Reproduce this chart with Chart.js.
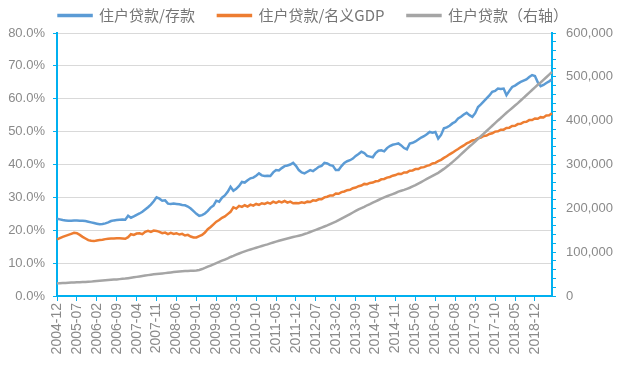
<!DOCTYPE html>
<html>
<head>
<meta charset="utf-8">
<script src="https://cdn.jsdelivr.net/npm/chart.js@4"></script>
<style>
  body { margin: 0; background: #fff; }
  #wrap { width: 640px; height: 368px; }
</style>
</head>
<body>
<div id="wrap"><canvas id="myChart" width="640" height="368"></canvas></div>
<script>
// monthly, 2004-12 .. 2019-06
const startYear = 2004;
const startMonth = 12;
const monthCount = 175;

const seriesNames = ["住户贷款/存款", "住户贷款/名义GDP", "住户贷款（右轴）"];

// 住户贷款/存款 (%)
const loanToDeposit = [23.5,
  23.3, 23.1, 23.0, 22.9, 22.9, 23.0, 23.0, 22.9, 22.9, 22.8, 22.6, 22.4,
  22.2, 22.0, 21.8, 21.9, 22.1, 22.4, 22.8, 23.0, 23.1, 23.2, 23.3, 23.2,
  24.4, 23.8, 24.2, 24.7, 25.1, 25.6, 26.3, 27.0, 27.8, 28.8, 30.0, 29.6,
  29.0, 29.1, 28.1, 28.0, 28.1, 28.0, 27.9, 27.7, 27.6, 27.2, 26.6, 25.8,
  25.0, 24.4, 24.6, 25.1, 25.9, 26.9, 27.5, 29.0, 28.7, 29.9, 30.6, 31.7,
  33.2, 32.0, 32.6, 33.5, 34.7, 34.5, 35.2, 35.8, 36.0, 36.6, 37.3, 36.7,
  36.5, 36.6, 36.5, 37.6, 38.3, 38.2, 38.9, 39.5, 39.7, 40.0, 40.5, 39.6,
  38.3, 37.6, 37.3, 37.8, 38.3, 38.0, 38.6, 39.3, 39.6, 40.5, 40.3, 39.8,
  39.6, 38.3, 38.3, 39.5, 40.5, 41.0, 41.3, 41.8, 42.6, 43.2, 43.9, 43.5,
  42.6, 42.4, 42.2, 43.5, 44.2, 44.3, 44.0, 45.0, 45.6, 46.0, 46.2, 46.4,
  45.8, 45.0, 44.6, 46.4, 46.6, 47.0, 47.6, 48.2, 48.6, 49.2, 49.9, 49.7,
  49.9, 47.9, 49.0, 51.0, 51.3, 51.8, 52.5, 53.0, 54.0, 54.5, 55.2, 55.7,
  55.0, 54.5, 55.6, 57.5, 58.3, 59.2, 60.1, 61.0, 62.1, 62.4, 63.1, 63.0,
  63.1, 61.1, 62.4, 63.6, 64.0, 64.6, 65.1, 65.5, 65.9, 66.6, 67.2, 66.9,
  65.0, 63.8, 64.2, 64.8, 65.3, 65.9];

// 住户贷款/名义GDP (%)
const loanToGdp = [17.2,
  17.6, 18.0, 18.3, 18.6, 18.9, 19.2, 19.1, 18.6, 18.0, 17.5, 17.0, 16.8,
  16.7, 16.9, 17.0, 17.1, 17.3, 17.4, 17.5, 17.5, 17.6, 17.6, 17.5, 17.4,
  17.9, 18.8, 18.6, 19.0, 19.1, 18.8, 19.5, 19.8, 19.5, 19.9, 19.8, 19.5,
  19.1, 19.3, 18.8, 19.2, 18.9, 19.1, 18.7, 18.9, 18.4, 18.6, 18.1, 17.8,
  17.8, 18.2, 18.6, 19.3, 20.3, 21.0, 21.8, 22.6, 23.1, 23.8, 24.2, 24.9,
  25.6, 27.0, 26.6, 27.4, 27.1, 27.6, 27.2, 27.8, 27.5, 28.0, 27.7, 28.2,
  28.0, 28.4, 28.1, 28.7, 28.3, 28.8, 28.5, 28.9, 28.4, 28.7, 28.2, 28.3,
  28.2, 28.5, 28.3, 28.7, 28.6, 29.1, 29.0, 29.4, 29.4, 30.0, 30.2, 30.6,
  30.6, 31.2, 31.1, 31.6, 31.8, 32.2, 32.3, 32.8, 33.0, 33.4, 33.6, 34.1,
  34.0, 34.4, 34.5, 34.9, 35.0, 35.5, 35.6, 36.0, 36.2, 36.6, 36.8, 37.2,
  37.1, 37.6, 37.6, 38.1, 38.2, 38.6, 38.6, 39.1, 39.2, 39.6, 39.8, 40.3,
  40.5, 41.0, 41.4, 42.0, 42.5, 43.1, 43.6, 44.2, 44.7, 45.3, 45.8, 46.4,
  46.8, 47.3, 47.5, 48.0, 48.2, 48.7, 48.8, 49.3, 49.5, 50.0, 50.1, 50.6,
  50.6, 51.1, 51.2, 51.7, 51.8, 52.3, 52.4, 52.9, 53.0, 53.5, 53.5, 54.0,
  53.9, 54.4, 54.3, 54.9, 55.0, 55.6];

// 住户贷款 (亿元, right axis)
const householdLoans = [28800,
  29200, 29600, 29900, 30200, 30600, 30900, 31200, 31500, 31800, 32100, 32400, 32800,
  33400, 34000, 34600, 35200, 35800, 36400, 36900, 37400, 37900, 38500, 39100, 39800,
  40700, 41600, 42600, 43600, 44600, 45600, 46600, 47600, 48600, 49400, 50200, 50800,
  51500, 52200, 53000, 53800, 54500, 55200, 55800, 56300, 56800, 57200, 57500, 57600,
  58300, 59500, 61500, 64000, 66800, 69500, 72300, 75000, 77800, 80500, 83200, 86000,
  89000, 91500, 94500, 97000, 99500, 101800, 104000, 106000, 108000, 110000, 112000, 114000,
  116000, 117800, 120000, 122000, 124000, 126000, 127800, 129500, 131200, 133000, 134500, 136000,
  137500, 139000, 141500, 143500, 146000, 148500, 151000, 153500, 156000, 158500, 161000, 164000,
  167000, 169500, 173000, 176500, 180000, 183500, 187000, 190500, 194000, 197500, 200500, 203500,
  207000, 209500, 213000, 216000, 219000, 222000, 225000, 227500, 230000, 232500, 235000, 238000,
  240000, 242000, 244500, 247000, 250000, 253000, 256500, 260000, 263500, 267000, 270500, 274000,
  277500, 281000, 285500, 290000, 295000, 300000, 305500, 311000, 317000, 323000, 329000, 335000,
  341000, 346500, 352500, 358500, 364500, 370500, 376500, 382500, 388500, 394500, 400500, 406000,
  412000, 418000, 423500, 429000, 434500, 440000, 446000, 452000, 458000, 464000, 470000, 476000,
  482000, 487000, 493000, 499000, 505000, 511000];

const labelEvery = 7;

const months = [];
for (let i = 0; i < monthCount; i++) {
  const m = startMonth - 1 + i;
  const y = startYear + Math.floor(m / 12);
  months.push(y + "-" + String((m % 12) + 1).padStart(2, "0"));
}

const axisBlue = "#00B0F0";
const textGray = "#8a8a8a";

Chart.defaults.font.family = "'Liberation Sans', 'Noto Sans CJK SC', sans-serif";
Chart.defaults.color = textGray;

const chartContainer = document.getElementById("myChart").getContext("2d");

const myChart = new Chart(chartContainer, {
  type: "line",
  data: {
    labels: months,
    datasets: [
      {
        label: seriesNames[0],
        data: loanToDeposit,
        borderColor: "#5B9BD5",
        backgroundColor: "#5B9BD5",
        yAxisID: "y",
        order: 2,
      },
      {
        label: seriesNames[1],
        data: loanToGdp,
        borderColor: "#ED7D31",
        backgroundColor: "#ED7D31",
        yAxisID: "y",
        order: 1,
      },
      {
        label: seriesNames[2],
        data: householdLoans,
        borderColor: "#A5A5A5",
        backgroundColor: "#A5A5A5",
        yAxisID: "y1",
        order: 0,
      },
    ],
  },
  options: {
    responsive: false,
    animation: false,
    layout: { padding: { left: 0, right: 6, top: 0, bottom: 0 } },
    elements: {
      line: { borderWidth: 2.5, tension: 0 },
      point: { radius: 0 },
    },
    plugins: {
      tooltip: { enabled: false },
      legend: {
        position: "top",
        align: "center",
        labels: {
          boxWidth: 33,
          boxHeight: 1,
          padding: 8,
          color: "#767676",
          font: { size: 15, family: "'Noto Sans CJK SC', sans-serif" },
          sort: (a, b) => a.datasetIndex - b.datasetIndex,
          generateLabels: (chart) =>
            Chart.defaults.plugins.legend.labels.generateLabels(chart).map((item) => {
              item.text = item.text + "\u3000";
              return item;
            }),
        },
      },
    },
    scales: {
      x: {
        grid: {
          drawOnChartArea: false,
          drawTicks: true,
          tickLength: 5,
          tickColor: axisBlue,
        },
        border: { color: axisBlue, width: 2 },
        ticks: {
          autoSkip: false,
          maxRotation: 90,
          minRotation: 90,
          padding: 2,
          font: { size: 14 },
          callback: function (value, index) {
            return index % labelEvery === 0 ? this.getLabelForValue(value) : null;
          },
        },
        afterFit: (scale) => {
          scale.height = 72;
        },
      },
      y: {
        position: "left",
        min: 0,
        max: 80,
        grid: {
          color: "#d9d9d9",
          tickColor: axisBlue,
          tickLength: 4,
        },
        border: { color: axisBlue, width: 2 },
        ticks: {
          stepSize: 10,
          padding: 8,
          font: { size: 13 },
          callback: (v) => v.toFixed(1) + "%",
        },
        afterFit: (scale) => {
          scale.width = 57;
        },
      },
      y1: {
        position: "right",
        min: 0,
        max: 600000,
        grid: {
          drawOnChartArea: false,
          tickColor: axisBlue,
          tickLength: 4,
        },
        border: { color: axisBlue, width: 2 },
        ticks: {
          stepSize: 20000,
          autoSkip: false,
          padding: 10,
          font: { size: 13 },
          callback: (v) => (v % 100000 === 0 ? v.toLocaleString("en-US") : ""),
        },
        afterFit: (scale) => {
          scale.width = 82;
        },
      },
    },
  },
});
</script>
</body>
</html>
